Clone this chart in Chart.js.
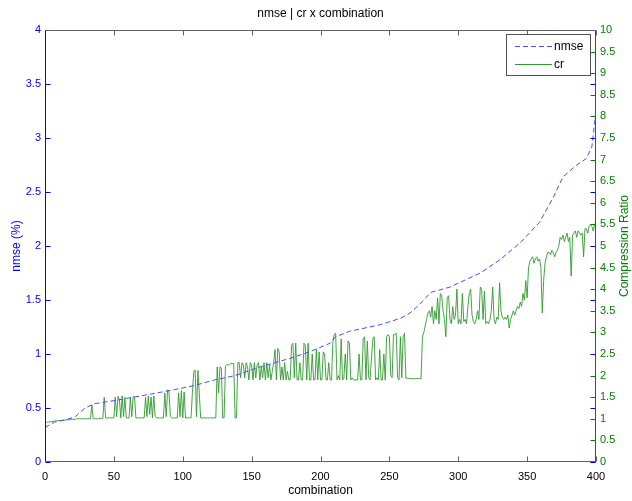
<!DOCTYPE html>
<html><head><meta charset="utf-8">
<script src="https://cdn.jsdelivr.net/npm/chart.js@4/dist/chart.umd.min.js"></script>
<style>html,body{margin:0;padding:0;background:#fff;overflow:hidden}canvas{display:block}</style>
</head><body>
<canvas id="c" width="632" height="501"></canvas>
<script>
const chartTitle = 'nmse | cr x combination';
const xTitle = 'combination';
const leftTitle = 'nmse (%)';
const rightTitle = 'Compression Ratio';
const seriesNames = ['nmse', 'cr'];

// nmse curve: read positions (combination) and values (%)
const nmseX = [0, 7, 15, 22, 29, 36, 51, 73, 94, 109, 123, 138, 156, 178, 192, 207, 211, 221, 243, 258, 265, 272, 280, 294, 316, 330, 345, 359, 369, 376, 386, 393, 397, 399, 400];
const nmseY = [0.32, 0.37, 0.39, 0.42, 0.50, 0.54, 0.57, 0.62, 0.67, 0.71, 0.76, 0.80, 0.88, 0.96, 1.02, 1.10, 1.16, 1.21, 1.27, 1.33, 1.38, 1.46, 1.57, 1.62, 1.75, 1.87, 2.03, 2.22, 2.45, 2.64, 2.75, 2.81, 2.92, 3.14, 3.28];

// compression ratio for combinations 1..400
const crValues = [
0.92,0.92,0.93,0.93,0.94,0.94,0.95,0.95,0.95,0.96,
0.96,0.96,0.97,0.97,0.97,0.98,0.98,0.98,0.99,0.99,
0.99,0.99,1.0,1.0,1.0,1.0,1.0,1.0,1.0,1.0,
1.0,1.0,1.0,1.32,1.0,1.0,1.0,1.0,1.01,1.01,
1.01,1.01,1.5,1.02,1.02,1.02,1.02,1.02,1.02,1.02,
1.5,1.05,1.52,1.45,1.02,1.53,1.05,1.5,1.02,1.02,
1.02,1.5,1.05,1.52,1.5,1.02,1.02,1.02,1.02,1.02,
1.02,1.02,1.5,1.05,1.53,1.1,1.5,1.02,1.53,1.05,
1.02,1.02,1.02,1.02,1.02,1.02,1.6,1.05,1.67,1.62,
1.05,1.02,1.02,1.02,1.02,1.02,1.6,1.05,1.65,1.02,
1.62,1.02,1.02,1.02,1.02,1.02,1.6,2.1,2.13,1.05,
2.12,1.6,1.02,1.02,1.02,1.02,1.02,1.02,1.02,1.02,
1.02,1.02,1.02,1.02,2.2,1.6,2.2,2.18,1.02,1.02,
2.22,2.25,2.25,2.25,2.28,2.28,2.28,1.02,1.02,2.3,
2.3,1.95,2.3,2.25,1.95,2.3,2.2,1.9,2.3,2.25,
1.9,2.3,1.95,2.25,2.3,1.9,2.2,1.95,2.3,1.9,
2.3,1.95,2.25,1.9,2.1,2.3,2.6,1.9,2.63,2.55,
1.9,2.2,1.9,2.3,1.9,2.1,1.9,1.9,2.7,2.75,
1.95,2.75,1.9,1.9,2.3,1.9,1.9,2.75,2.7,1.9,
2.75,1.9,1.9,2.5,1.9,1.9,2.6,1.9,2.55,1.9,
1.9,2.55,2.5,1.9,1.9,2.3,1.9,1.9,2.8,2.95,
2.98,1.9,2.0,1.9,2.85,1.9,1.95,2.5,1.9,2.8,
2.75,1.9,1.95,1.9,1.9,1.9,1.9,2.5,1.9,1.9,
2.85,2.9,1.9,2.8,1.95,1.9,2.4,2.85,2.9,1.9,
1.95,1.9,2.6,1.9,1.9,2.5,1.9,2.9,2.95,2.9,
2.0,1.95,2.95,2.95,2.98,1.95,1.9,2.9,1.95,2.9,
2.98,1.94,1.94,1.94,1.93,1.93,1.93,1.93,1.93,1.93,
1.93,1.93,1.93,2.9,3.0,3.15,3.3,3.45,3.5,3.35,
3.6,3.2,3.5,3.3,3.8,3.2,3.9,3.85,3.5,3.3,
2.9,3.8,3.85,3.3,3.2,3.6,3.3,3.4,4.0,3.2,
3.3,3.2,3.9,3.25,3.3,3.2,3.6,3.9,4.0,3.4,
3.25,3.2,3.3,3.5,3.3,4.05,4.0,3.3,3.95,3.2,
3.25,3.2,3.3,3.5,4.05,3.3,3.2,3.35,3.3,4.15,
3.5,3.35,3.3,3.35,3.3,3.4,3.1,3.3,3.4,3.5,
3.4,3.5,3.6,3.55,3.7,3.6,3.9,3.75,4.2,3.8,
4.5,4.65,4.7,4.75,4.6,4.7,4.75,4.65,4.7,4.5,
3.45,4.2,4.6,4.75,4.85,4.85,4.8,4.9,4.85,4.75,
4.85,4.9,5.0,5.2,5.15,5.25,5.1,5.2,5.3,5.1,
5.2,4.3,5.25,5.3,5.35,5.2,5.35,5.3,5.25,5.3,
4.75,5.4,5.4,5.3,5.45,5.5,5.45,5.35,5.5,5.55
];
const crX = crValues.map((_, i) => i + 1);

const xTicks = [0, 50, 100, 150, 200, 250, 300, 350, 400];

const FONT = '"Liberation Sans", Arial, Helvetica, sans-serif';
const BLUE = '#0000ff';
const GREEN = '#008000';
const LINE_BLUE = '#4a4aff';
const LINE_GREEN = '#2f9a2f';
const AXIS_GRAY = '#606060';
const fmt = v => String(Math.round(v * 10) / 10);

const framePlugin = {
  id: 'frame',
  afterDatasetsDraw(chart) {
    const { ctx, chartArea: a, scales } = chart;
    const L = Math.round(a.left) + 0.5, R = Math.round(a.right) - 0.5;
    const T = Math.round(a.top) + 0.5, B = Math.round(a.bottom) - 0.5;
    const seg = (x1, y1, x2, y2, c) => { ctx.strokeStyle = c; ctx.beginPath(); ctx.moveTo(x1, y1); ctx.lineTo(x2, y2); ctx.stroke(); };
    ctx.save();
    ctx.lineWidth = 1;
    scales.x.ticks.forEach(t => {
      const px = Math.round(scales.x.getPixelForValue(t.value)) + 0.5;
      seg(px, B, px, B - 5, AXIS_GRAY);
      seg(px, T, px, T + 5, AXIS_GRAY);
    });
    scales.y1.ticks.forEach(t => {
      const py = Math.round(scales.y1.getPixelForValue(t.value)) + 0.5;
      seg(R, py, R - 5, py, GREEN);
    });
    scales.y.ticks.forEach(t => {
      const py = Math.round(scales.y.getPixelForValue(t.value)) + 0.5;
      seg(L, py, L + 5, py, BLUE);
      seg(R, py, R - 5, py, BLUE);
    });
    seg(L, T, R, T, AXIS_GRAY);
    seg(L, B, R, B, AXIS_GRAY);
    seg(L, T, L, B, BLUE);
    seg(R, T, R, B + 0.5, GREEN);
    ctx.restore();
  },
  afterDraw(chart) {
    const { ctx, chartArea: a } = chart;
    ctx.save();
    ctx.fillStyle = '#000';
    ctx.font = '12px ' + FONT;
    ctx.textAlign = 'center';
    ctx.textBaseline = 'middle';
    ctx.fillText(chartTitle, (a.left + a.right) / 2, 14);
    ctx.save();
    ctx.translate(625, (a.top + a.bottom) / 2);
    ctx.rotate(-Math.PI / 2);
    ctx.fillStyle = GREEN;
    ctx.font = '12px ' + FONT;
    ctx.fillText(rightTitle, 0, 0);
    ctx.restore();
    const bx = 506.5, by = 34.5, bw = 84, bh = 41;
    ctx.fillStyle = '#fff';
    ctx.fillRect(bx, by, bw, bh);
    ctx.strokeStyle = '#505050';
    ctx.lineWidth = 1;
    ctx.strokeRect(bx, by, bw, bh);
    const rows = [46, 64];
    chart.data.datasets.forEach((ds, i) => {
      const y = rows[i] + 0.5;
      ctx.strokeStyle = ds.borderColor;
      ctx.setLineDash(ds.borderDash || []);
      ctx.beginPath(); ctx.moveTo(515, y); ctx.lineTo(552, y); ctx.stroke();
      ctx.setLineDash([]);
      ctx.fillStyle = '#000';
      ctx.font = '12px ' + FONT;
      ctx.textAlign = 'left';
      ctx.textBaseline = 'middle';
      ctx.fillText(ds.label, 554, y);
    });
    ctx.restore();
  }
};

new Chart(document.getElementById('c'), {
  type: 'line',
  data: {
    datasets: [
      {
        label: seriesNames[0],
        data: nmseX.map((x, i) => ({ x, y: nmseY[i] })),
        yAxisID: 'y',
        borderColor: LINE_BLUE,
        borderWidth: 1,
        borderDash: [5, 3],
        pointRadius: 0,
        tension: 0,
        fill: false,
        order: 0
      },
      {
        label: seriesNames[1],
        data: crX.map((x, i) => ({ x, y: crValues[i] })),
        yAxisID: 'y1',
        borderColor: LINE_GREEN,
        borderWidth: 0.9,
        pointRadius: 0,
        tension: 0,
        fill: false,
        order: 1
      }
    ]
  },
  options: {
    responsive: false,
    animation: false,
    devicePixelRatio: 1,
    layout: { padding: { top: 30, left: 0, right: 0, bottom: 0 } },
    plugins: { legend: { display: false }, title: { display: false }, tooltip: { enabled: false } },
    scales: {
      x: {
        type: 'linear', position: 'bottom', min: 0, max: 400,
        afterBuildTicks: s => { s.ticks = xTicks.map(v => ({ value: v })); },
        afterFit: s => { s.height = 39; },
        grid: { display: false, drawTicks: false },
        border: { display: false },
        ticks: { color: '#000', font: { family: FONT, size: 11 }, padding: 8, maxRotation: 0, callback: v => String(v) },
        title: { display: true, text: xTitle, color: '#000', font: { family: FONT, size: 12 }, padding: { top: 0, bottom: 3 } }
      },
      y: {
        type: 'linear', position: 'left', min: 0, max: 4,
        ticks: { stepSize: 0.5, color: BLUE, font: { family: FONT, size: 11 }, padding: 4, callback: fmt },
        afterFit: s => { s.width = 45; },
        grid: { display: false, drawTicks: false },
        border: { display: false },
        title: { display: true, text: leftTitle, color: BLUE, font: { family: FONT, size: 12 }, padding: { top: 9, bottom: 0 } }
      },
      y1: {
        type: 'linear', position: 'right', min: 0, max: 10,
        ticks: { stepSize: 0.5, color: GREEN, font: { family: FONT, size: 11 }, padding: 4, callback: fmt },
        afterFit: s => { s.width = 36; },
        grid: { display: false, drawTicks: false },
        border: { display: false }
      }
    }
  },
  plugins: [framePlugin]
});
</script>
</body></html>
